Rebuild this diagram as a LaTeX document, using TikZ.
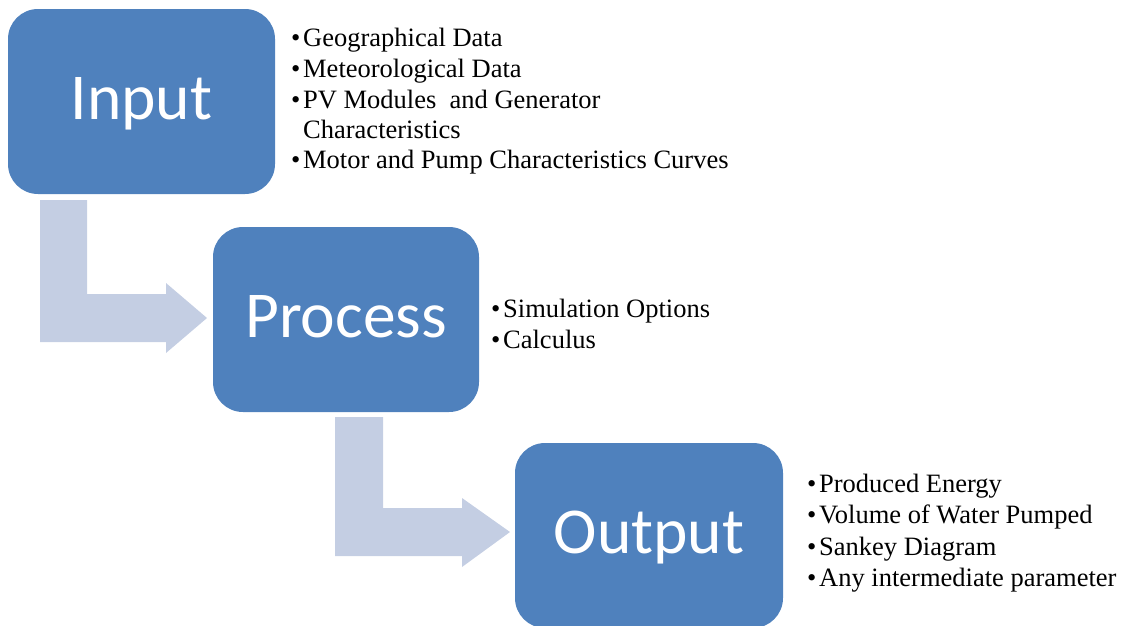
\documentclass[tikz,border=0pt]{standalone}
\usepackage{fontspec}
\setmainfont{Liberation Serif}
\newfontfamily\boxfont{Carlito}
\definecolor{boxblue}{HTML}{4F81BD}
\definecolor{arrowblue}{HTML}{C4CEE3}
\newcommand\bl{\makebox[12pt][l]{\textbullet}}
\begin{document}
\begin{tikzpicture}[x=1pt,y=-1pt,
  stagebox/.style={rectangle, rounded corners=30pt, fill=boxblue, minimum height=185pt,
    text=white, font=\boxfont\fontsize{65.5}{66}\selectfont, text height=35pt, text depth=0pt, inner sep=0pt},
  bul/.style={anchor=base west, inner sep=0pt, font=\fontsize{26.5}{30}\selectfont},
  bendarrow/.style={fill=arrowblue}]
\useasboundingbox (0,0) rectangle (1124,625);
\clip (0,0) rectangle (1124,625);
% bent arrows
\fill[bendarrow] (40,200) -- (87,200) -- (87,294) -- (166,294) -- (166,283) -- (207,318)
  -- (166,353) -- (166,342) -- (40,342) -- cycle;
\fill[bendarrow] (335,417) -- (383,417) -- (383,508) -- (462,508) -- (462,498) -- (510,532)
  -- (462,567) -- (462,556) -- (335,556) -- cycle;
% boxes
\node[stagebox, minimum width=267pt] (input) at (141.5,101.5) {Input};
\node[stagebox, minimum width=266pt] (process) at (346,319.5) {Process};
\node[stagebox, minimum width=268pt] (output) at (649,535.5) {Output};
% input bullets
\node[bul] (i1) at (291,46) {\bl Geographical Data};
\node[bul] (i2) at (291,77) {\bl Meteorological Data};
\node[bul] (i3) at (291,108) {\bl PV Modules\ \ and Generator};
\node[bul] (i3b) at (303,138) {Characteristics};
\node[bul] (i4) at (291,168) {\bl Motor and Pump Characteristics Curves};
% process bullets
\node[bul] (p1) at (491,317) {\bl Simulation Options};
\node[bul] (p2) at (491,348) {\bl Calculus};
% output bullets
\node[bul] (o1) at (807,492) {\bl Produced Energy};
\node[bul] (o2) at (807,523) {\bl Volume of Water Pumped};
\node[bul] (o3) at (807,555) {\bl Sankey Diagram};
\node[bul] (o4) at (807,586) {\bl Any intermediate parameter};
\end{tikzpicture}
\end{document}
